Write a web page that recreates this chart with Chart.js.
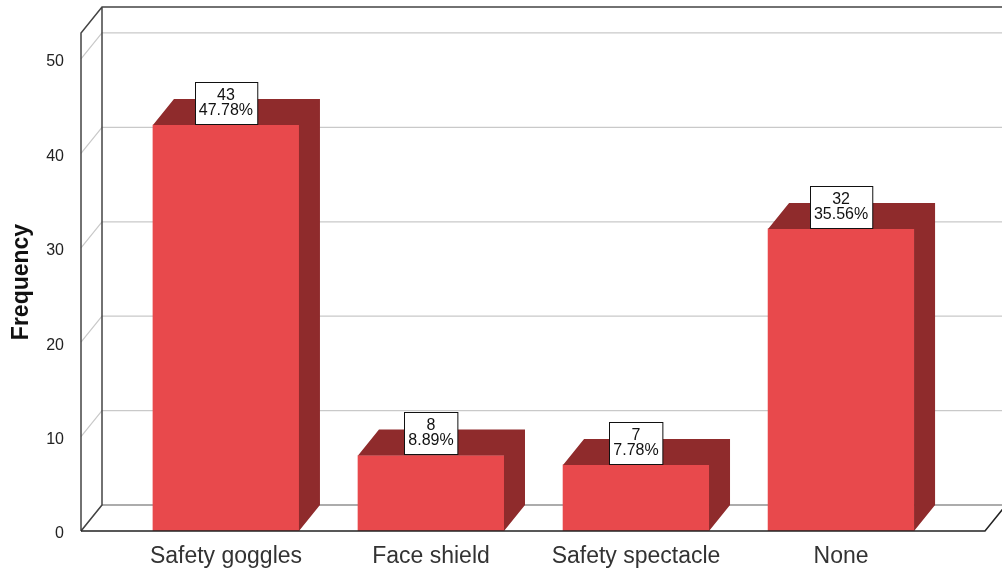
<!DOCTYPE html>
<html>
<head>
<meta charset="utf-8">
<script src="https://cdn.jsdelivr.net/npm/chart.js@4/dist/chart.umd.min.js"></script>
<style>
    html, body { margin: 0; padding: 0; background: #fff; }
    #wrap { width: 1002px; height: 573px; }
</style>
</head>
<body>
<div id="wrap"><canvas id="bar_canvas"></canvas></div>
<script>
// values
const categories = ["Safety goggles", "Face shield", "Safety spectacle", "None"];
const frequencies = [43, 8, 7, 32];
const percent_labels = ["47.78%", "8.89%", "7.78%", "35.56%"];
const y_ticks = [0, 10, 20, 30, 40, 50];

const depth_x = 21;
const depth_y = -26;
const front_color = "#E8494C";
const side_color = "#8F2B2C";

let wall_plugin = {
    id: "wall3d",
    beforeDatasetsDraw(chart){
        let ctx = chart.ctx;
        let area = chart.chartArea;
        let y_scale = chart.scales.y;
        ctx.save();
        // gridlines on the back wall and the small diagonals on the side wall
        ctx.strokeStyle = "#c9c9c9";
        ctx.lineWidth = 1.2;
        y_ticks.forEach(v => {
            let py = y_scale.getPixelForValue(v);
            ctx.beginPath();
            ctx.moveTo(area.left, py);
            ctx.lineTo(area.left + depth_x, py + depth_y);
            ctx.lineTo(chart.width + 5, py + depth_y);
            ctx.stroke();
        });
        // floor
        ctx.beginPath();
        ctx.moveTo(area.left + depth_x, area.bottom + depth_y);
        ctx.lineTo(chart.width + 5, area.bottom + depth_y);
        ctx.strokeStyle = "#777";
        ctx.stroke();
        // box outline
        ctx.strokeStyle = "#444";
        ctx.lineWidth = 1.5;
        ctx.beginPath();
        ctx.moveTo(area.left, area.bottom);
        ctx.lineTo(area.left, area.top);
        ctx.lineTo(area.left + depth_x, area.top + depth_y);
        ctx.lineTo(chart.width + 5, area.top + depth_y);
        ctx.moveTo(area.left + depth_x, area.top + depth_y);
        ctx.lineTo(area.left + depth_x, area.bottom + depth_y);
        ctx.lineTo(area.left, area.bottom);
        ctx.stroke();
        ctx.restore();
    },
    afterDatasetsDraw(chart){
        let ctx = chart.ctx;
        let area = chart.chartArea;
        let bars = chart.getDatasetMeta(0).data;
        ctx.save();
        ctx.fillStyle = side_color;
        bars.forEach(bar => {
            let x0 = bar.x - bar.width / 2;
            let x1 = bar.x + bar.width / 2;
            let top = bar.y;
            let base = bar.base;
            ctx.beginPath();
            ctx.moveTo(x0, top);
            ctx.lineTo(x0 + depth_x, top + depth_y);
            ctx.lineTo(x1 + depth_x, top + depth_y);
            ctx.lineTo(x1 + depth_x, base + depth_y);
            ctx.lineTo(x1, base);
            ctx.lineTo(x1, top);
            ctx.closePath();
            ctx.fill();
        });
        // front floor edge
        ctx.strokeStyle = "#222";
        ctx.lineWidth = 1.5;
        ctx.beginPath();
        ctx.moveTo(area.left, area.bottom);
        ctx.lineTo(area.right, area.bottom);
        ctx.lineTo(area.right + depth_x, area.bottom + depth_y);
        ctx.stroke();

        // value boxes
        ctx.font = "16px Arial, 'Liberation Sans', sans-serif";
        ctx.textAlign = "center";
        ctx.textBaseline = "middle";
        bars.forEach((bar, i) => {
            let line1 = String(frequencies[i]);
            let line2 = percent_labels[i];
            let w = Math.max(ctx.measureText(line1).width, ctx.measureText(line2).width) + 8;
            let h = 42;
            let bx = Math.round(bar.x - w / 2) + 0.5;
            let by = Math.round(bar.y - h) - 0.5;
            ctx.fillStyle = "#fff";
            ctx.fillRect(bx, by, w, h);
            ctx.strokeStyle = "#111";
            ctx.lineWidth = 1;
            ctx.strokeRect(bx, by, w, h);
            ctx.fillStyle = "#111";
            ctx.fillText(line1, bar.x, by + 13.5);
            ctx.fillText(line2, bar.x, by + 28.5);
        });
        ctx.restore();
    }
};

let chart_data = {
    datasets: [{
        label: "Frequency",
        data: frequencies.map((v, i) => ({x: i, y: v})),
        backgroundColor: front_color,
        borderWidth: 0,
        barThickness: 146
    }]
};

new Chart(document.getElementById("bar_canvas"), {
    type: "bar",
    data: chart_data,
    options: {
        responsive: true,
        maintainAspectRatio: false,
        animation: false,
        layout: { padding: { top: 33, right: 17, left: 0, bottom: 0 } },
        plugins: { legend: { display: false }, tooltip: { enabled: false } },
        scales: {
            x: {
                type: "linear",
                offset: false,
                min: -0.707,
                max: 3.702,
                grid: { display: false, offset: false },
                border: { display: false },
                afterBuildTicks(axis){ axis.ticks = categories.map((c, i) => ({value: i})); },
                afterFit(axis){ axis.height = 42; },
                ticks: {
                    autoSkip: false,
                    maxRotation: 0,
                    padding: 4,
                    color: "#333",
                    font: { family: "Arial, 'Liberation Sans', sans-serif", size: 23 },
                    callback: (v) => categories[v]
                }
            },
            y: {
                min: 0,
                max: 52.75,
                grid: { display: false },
                border: { display: false },
                afterFit(axis){ axis.width = 81; },
                afterBuildTicks(axis){ axis.ticks = y_ticks.map(v => ({value: v})); },
                ticks: {
                    padding: 9,
                    labelOffset: 3,
                    color: "#222",
                    font: { family: "Arial, 'Liberation Sans', sans-serif", size: 16 }
                },
                title: {
                    display: true,
                    text: "Frequency",
                    color: "#111",
                    padding: { top: 8, bottom: 0 },
                    font: { family: "Arial, 'Liberation Sans', sans-serif", size: 23, weight: "bold" }
                }
            }
        }
    },
    plugins: [wall_plugin]
});
</script>
</body>
</html>
